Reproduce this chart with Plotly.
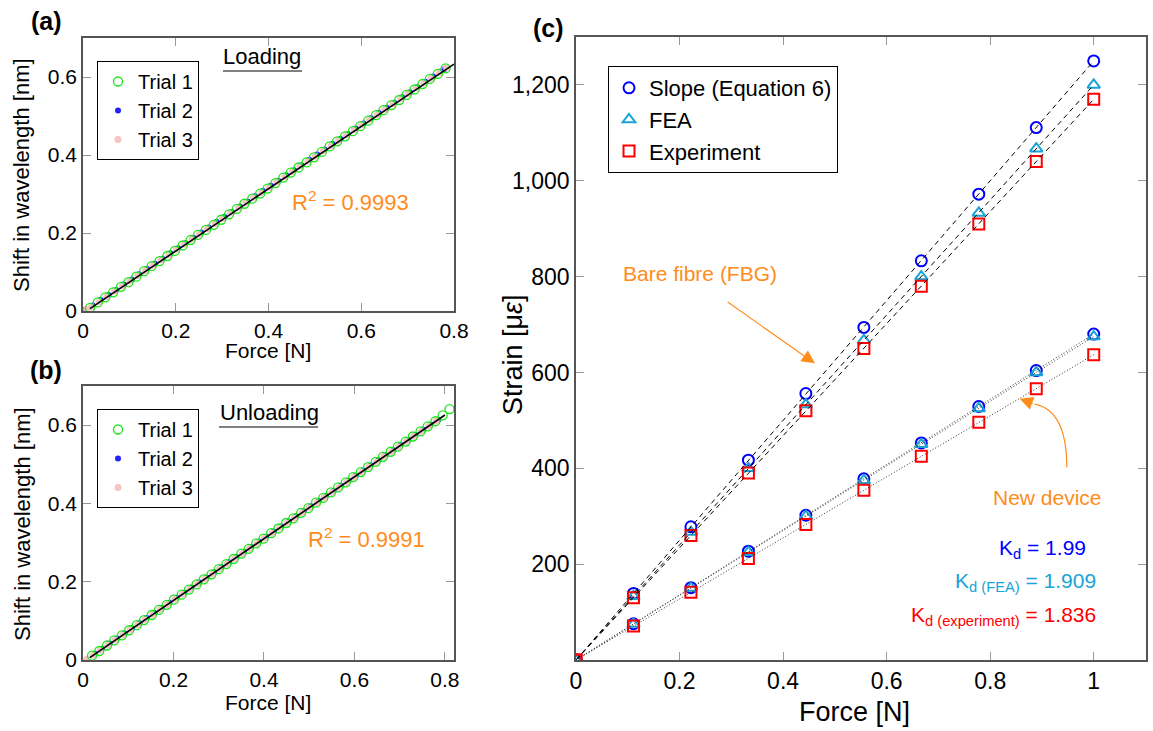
import plotly.graph_objects as go

# ---------------- Panel (a): Loading ----------------
a_t1_force = [0.015, 0.032, 0.048, 0.065, 0.082, 0.098, 0.115, 0.132, 0.148, 0.165, 0.182, 0.198,
              0.215, 0.232, 0.248, 0.265, 0.282, 0.298, 0.315, 0.332, 0.348, 0.365, 0.382, 0.398,
              0.415, 0.432, 0.448, 0.465, 0.482, 0.498, 0.515, 0.532, 0.548, 0.565, 0.582, 0.598,
              0.615, 0.632, 0.648, 0.665, 0.682, 0.698, 0.715, 0.732, 0.748, 0.765, 0.782]
a_t1_shift = [0.008, 0.022, 0.035, 0.048, 0.062, 0.074, 0.088, 0.102, 0.115, 0.128, 0.141, 0.154,
              0.168, 0.182, 0.195, 0.208, 0.221, 0.234, 0.248, 0.262, 0.275, 0.288, 0.301, 0.314,
              0.328, 0.342, 0.355, 0.368, 0.381, 0.394, 0.408, 0.422, 0.435, 0.448, 0.461, 0.474,
              0.488, 0.502, 0.515, 0.528, 0.541, 0.554, 0.568, 0.582, 0.595, 0.608, 0.622]
a_t2_force = [0.005, 0.021, 0.038, 0.055, 0.071, 0.088, 0.105, 0.121, 0.138, 0.155, 0.171, 0.188,
              0.205, 0.221, 0.238, 0.255, 0.271, 0.288, 0.305, 0.321, 0.338, 0.355, 0.371, 0.388,
              0.405, 0.421, 0.438, 0.455, 0.471, 0.488, 0.505, 0.521, 0.538, 0.555, 0.571, 0.588,
              0.605, 0.621, 0.638, 0.655, 0.671, 0.688, 0.705, 0.721, 0.738, 0.755, 0.771, 0.781]
a_t2_shift = [0.003, 0.014, 0.028, 0.041, 0.054, 0.068, 0.081, 0.094, 0.108, 0.121, 0.134, 0.148,
              0.161, 0.174, 0.188, 0.201, 0.214, 0.228, 0.241, 0.254, 0.268, 0.281, 0.294, 0.308,
              0.321, 0.334, 0.348, 0.361, 0.374, 0.388, 0.401, 0.414, 0.428, 0.441, 0.454, 0.468,
              0.481, 0.494, 0.508, 0.521, 0.534, 0.548, 0.561, 0.574, 0.588, 0.601, 0.614, 0.621]
a_t3_force = [0.008, 0.018, 0.035, 0.051, 0.068, 0.085, 0.101, 0.118, 0.135, 0.151, 0.168, 0.185,
              0.201, 0.218, 0.235, 0.251, 0.268, 0.285, 0.301, 0.318, 0.335, 0.351, 0.368, 0.385,
              0.401, 0.418, 0.435, 0.451, 0.468, 0.485, 0.501, 0.518, 0.535, 0.551, 0.568, 0.585,
              0.601, 0.618, 0.635, 0.651, 0.668, 0.685, 0.701, 0.718, 0.735, 0.751, 0.768, 0.784]
a_t3_shift = [0.004, 0.010, 0.024, 0.037, 0.051, 0.064, 0.077, 0.091, 0.104, 0.117, 0.131, 0.144,
              0.157, 0.171, 0.184, 0.197, 0.211, 0.224, 0.237, 0.251, 0.264, 0.277, 0.291, 0.304,
              0.317, 0.331, 0.344, 0.357, 0.371, 0.384, 0.397, 0.411, 0.424, 0.437, 0.451, 0.464,
              0.477, 0.491, 0.504, 0.517, 0.531, 0.544, 0.557, 0.571, 0.584, 0.597, 0.611, 0.624]
a_fit_force = [0.015, 0.80]
a_fit_shift = [0.006, 0.633]

# ---------------- Panel (b): Unloading ----------------
b_t1_force = [0.020, 0.036, 0.053, 0.069, 0.086, 0.102, 0.119, 0.135, 0.152, 0.168, 0.185, 0.201,
              0.218, 0.234, 0.251, 0.267, 0.284, 0.300, 0.317, 0.333, 0.350, 0.366, 0.383, 0.399,
              0.416, 0.432, 0.449, 0.465, 0.482, 0.498, 0.515, 0.531, 0.548, 0.564, 0.581, 0.597,
              0.614, 0.630, 0.647, 0.663, 0.680, 0.696, 0.713, 0.729, 0.746, 0.762, 0.779, 0.795, 0.810]
b_t1_shift = [0.011, 0.023, 0.037, 0.050, 0.063, 0.076, 0.089, 0.102, 0.115, 0.128, 0.141, 0.154,
              0.167, 0.180, 0.193, 0.206, 0.219, 0.232, 0.245, 0.258, 0.272, 0.284, 0.298, 0.310,
              0.324, 0.336, 0.350, 0.362, 0.376, 0.388, 0.402, 0.414, 0.428, 0.441, 0.454, 0.467,
              0.480, 0.493, 0.506, 0.519, 0.532, 0.545, 0.558, 0.571, 0.584, 0.597, 0.610, 0.625, 0.641]
b_t2_force = [0.008, 0.026, 0.042, 0.059, 0.075, 0.092, 0.108, 0.125, 0.141, 0.158, 0.174, 0.191,
              0.207, 0.224, 0.240, 0.257, 0.273, 0.290, 0.306, 0.323, 0.339, 0.356, 0.372, 0.389,
              0.405, 0.422, 0.438, 0.455, 0.471, 0.488, 0.504, 0.521, 0.537, 0.554, 0.570, 0.587,
              0.603, 0.620, 0.636, 0.653, 0.669, 0.686, 0.702, 0.719, 0.735, 0.752, 0.768, 0.785]
b_t2_shift = [0.001, 0.016, 0.029, 0.042, 0.055, 0.068, 0.081, 0.094, 0.107, 0.120, 0.133, 0.146,
              0.159, 0.172, 0.185, 0.198, 0.211, 0.224, 0.237, 0.250, 0.263, 0.276, 0.289, 0.302,
              0.315, 0.328, 0.341, 0.354, 0.367, 0.380, 0.393, 0.406, 0.419, 0.432, 0.445, 0.458,
              0.471, 0.484, 0.497, 0.510, 0.523, 0.536, 0.549, 0.562, 0.575, 0.588, 0.601, 0.614]
b_t3_force = [0.008, 0.022, 0.038, 0.055, 0.071, 0.088, 0.104, 0.121, 0.137, 0.154, 0.170, 0.187,
              0.203, 0.220, 0.236, 0.253, 0.269, 0.286, 0.302, 0.319, 0.335, 0.352, 0.368, 0.385,
              0.401, 0.418, 0.434, 0.451, 0.467, 0.484, 0.500, 0.517, 0.533, 0.550, 0.566, 0.583,
              0.599, 0.616, 0.632, 0.649, 0.665, 0.682, 0.698, 0.715, 0.731, 0.748, 0.764, 0.781]
b_t3_shift = [0.001, 0.012, 0.025, 0.038, 0.051, 0.064, 0.077, 0.090, 0.103, 0.116, 0.129, 0.142,
              0.155, 0.168, 0.181, 0.194, 0.207, 0.220, 0.233, 0.246, 0.259, 0.272, 0.285, 0.298,
              0.311, 0.324, 0.337, 0.350, 0.363, 0.376, 0.389, 0.402, 0.415, 0.428, 0.441, 0.454,
              0.467, 0.480, 0.493, 0.506, 0.519, 0.532, 0.545, 0.558, 0.571, 0.584, 0.597, 0.611]
b_fit_force = [0.015, 0.80]
b_fit_shift = [0.006, 0.626]

# ---------------- Panel (c): Strain ----------------
c_force = [0, 0.111, 0.222, 0.333, 0.444, 0.556, 0.667, 0.778, 0.889, 1.0]
bare_slope = [0, 139, 278, 417, 556, 694, 833, 972, 1111, 1250]
bare_fea = [0, 133, 267, 400, 533, 667, 800, 933, 1067, 1200]
bare_exp = [0, 130, 260, 390, 520, 650, 780, 910, 1040, 1170]
new_slope = [0, 75.6, 151, 227, 302, 378, 453, 529, 604, 680]
new_fea = [0, 75, 150, 225, 300, 375, 450, 525, 600, 675]
new_exp = [0, 70.8, 141.6, 212, 283, 354, 425, 496, 566, 637]

c_xticks = [0, 0.2, 0.4, 0.6, 0.8, 1]
c_xticktext = ["0", "0.2", "0.4", "0.6", "0.8", "1"]
c_yticks = [200, 400, 600, 800, 1000, 1200]
c_yticktext = ["200", "400", "600", "800", "1,000", "1,200"]
ab_yticks = [0, 0.2, 0.4, 0.6]
ab_yticktext = ["0", "0.2", "0.4", "0.6"]
ab_xticks = [0, 0.2, 0.4, 0.6, 0.8]
ab_xticktext = ["0", "0.2", "0.4", "0.6", "0.8"]

W, H = 1153, 731
FONT = "Liberation Sans, Arial, sans-serif"
GREEN = "#1ee61e"
BLUE2 = "#2222ff"
PINK = "#f5c4c4"
ORANGE = "#ff8c1a"
CBLUE = "#0000ff"
CYAN = "#1aa3d6"
RED = "#ff0000"


def px(x):
    return x / W


def py(y):
    return 1 - y / H


fig = go.Figure()

# panel (a)
fig.add_trace(go.Scatter(x=a_t2_force, y=a_t2_shift, mode="markers", name="Trial 2",
                         marker=dict(color=BLUE2, size=6), xaxis="x", yaxis="y",
                         legend="legend", legendrank=2))
fig.add_trace(go.Scatter(x=a_t3_force, y=a_t3_shift, mode="markers", name="Trial 3",
                         marker=dict(color=PINK, size=7), xaxis="x", yaxis="y",
                         legend="legend", legendrank=3))
fig.add_trace(go.Scatter(x=a_t1_force, y=a_t1_shift, mode="markers", name="Trial 1",
                         marker=dict(symbol="circle-open", color=GREEN, size=9, line=dict(width=1.3)),
                         xaxis="x", yaxis="y", legend="legend", legendrank=1))
fig.add_trace(go.Scatter(x=a_fit_force, y=a_fit_shift, mode="lines", showlegend=False,
                         line=dict(color="black", width=1.6), xaxis="x", yaxis="y"))

# panel (b)
fig.add_trace(go.Scatter(x=b_t2_force, y=b_t2_shift, mode="markers", name="Trial 2",
                         marker=dict(color=BLUE2, size=6), xaxis="x2", yaxis="y2",
                         legend="legend2", legendrank=2))
fig.add_trace(go.Scatter(x=b_t3_force, y=b_t3_shift, mode="markers", name="Trial 3",
                         marker=dict(color=PINK, size=7), xaxis="x2", yaxis="y2",
                         legend="legend2", legendrank=3))
fig.add_trace(go.Scatter(x=b_t1_force, y=b_t1_shift, mode="markers", name="Trial 1",
                         marker=dict(symbol="circle-open", color=GREEN, size=9, line=dict(width=1.3)),
                         xaxis="x2", yaxis="y2", legend="legend2", legendrank=1))
fig.add_trace(go.Scatter(x=b_fit_force, y=b_fit_shift, mode="lines", showlegend=False,
                         line=dict(color="black", width=1.6), xaxis="x2", yaxis="y2"))

# panel (c) markers
series = [
    (bare_slope, new_slope, "Slope (Equation 6)", "circle-open", CBLUE, 11),
    (bare_fea, new_fea, "FEA", "triangle-up-open", CYAN, 11),
    (bare_exp, new_exp, "Experiment", "square-open", RED, 11),
]
for i, (bare, new, name, sym, col, sz) in enumerate(series):
    fig.add_trace(go.Scatter(x=c_force, y=bare, mode="markers", name=name,
                             marker=dict(symbol=sym, color=col, size=sz, line=dict(width=2)),
                             xaxis="x3", yaxis="y3", legend="legend3", legendrank=i + 1))
    fig.add_trace(go.Scatter(x=c_force, y=new, mode="markers", showlegend=False,
                             marker=dict(symbol=sym, color=col, size=sz, line=dict(width=2)),
                             xaxis="x3", yaxis="y3"))
for bare, new, *_ in series:
    fig.add_trace(go.Scatter(x=c_force, y=bare, mode="lines", showlegend=False,
                             line=dict(color="black", width=1, dash="5px,4px"),
                             xaxis="x3", yaxis="y3"))
    fig.add_trace(go.Scatter(x=c_force, y=new, mode="lines", showlegend=False,
                             line=dict(color="#333333", width=1, dash="1px,2px"),
                             xaxis="x3", yaxis="y3"))

axis_common = dict(showgrid=False, zeroline=False, showline=True, linecolor="#555555",
                   linewidth=1.5, mirror="ticks", ticks="inside", ticklen=8, tickcolor="#999999",
                   tickwidth=1.2, automargin=False)

fig.update_layout(
    template="none",
    width=W, height=H, margin=dict(l=0, r=0, t=0, b=0, pad=0), autosize=False,
    paper_bgcolor="white", plot_bgcolor="white",
    font=dict(family=FONT, color="black"),
    xaxis=dict(domain=[px(83), px(454)], range=[0, 0.8], anchor="y", tickvals=ab_xticks,
               ticktext=ab_xticktext, tickfont=dict(size=21), **axis_common),
    yaxis=dict(domain=[py(311), py(38)], range=[0, 0.7], anchor="x", tickvals=ab_yticks,
               ticktext=ab_yticktext, tickfont=dict(size=21), **axis_common),
    xaxis2=dict(domain=[px(83), px(454)], range=[0, 0.82], anchor="y2", tickvals=ab_xticks,
                ticktext=ab_xticktext, tickfont=dict(size=21), **axis_common),
    yaxis2=dict(domain=[py(660), py(386)], range=[0, 0.7], anchor="x2", tickvals=ab_yticks,
                ticktext=ab_yticktext, tickfont=dict(size=21), **axis_common),
    xaxis3=dict(domain=[px(576), px(1145.5)], range=[0, 1.1], anchor="y3", tickvals=c_xticks,
                ticktext=c_xticktext, tickfont=dict(size=23), **axis_common),
    yaxis3=dict(domain=[py(660), py(37)], range=[0, 1300], anchor="x3", tickvals=c_yticks,
                ticktext=c_yticktext, tickfont=dict(size=23), **axis_common),
    legend=dict(x=px(97), y=py(61), xanchor="left", yanchor="top", bgcolor="white",
                bordercolor="black", borderwidth=1, font=dict(size=20), itemwidth=30,
                traceorder="normal"),
    legend2=dict(x=px(97), y=py(409), xanchor="left", yanchor="top", bgcolor="white",
                 bordercolor="black", borderwidth=1, font=dict(size=20), itemwidth=30,
                 traceorder="normal"),
    legend3=dict(x=px(608), y=py(66), xanchor="left", yanchor="top", bgcolor="white",
                 bordercolor="black", borderwidth=1, font=dict(size=22), itemwidth=30,
                 traceorder="normal"),
    showlegend=True,
)

ann = []


def text(x, y, t, size, color="black", angle=0, xanchor="center", bold=False):
    ann.append(dict(x=px(x), y=py(y), xref="paper", yref="paper", text=("<b>%s</b>" % t) if bold else t,
                    showarrow=False, font=dict(size=size, color=color, family=FONT),
                    textangle=angle, xanchor=xanchor, yanchor="middle"))


text(46, 21, "(a)", 25, bold=True)
text(46, 370, "(b)", 25, bold=True)
text(548, 28, "(c)", 25, bold=True)
text(268, 350, "Force [N]", 21)
text(268, 702, "Force [N]", 21)
text(22, 175, "Shift in wavelength [nm]", 22, angle=-90)
text(22, 524, "Shift in wavelength [nm]", 22, angle=-90)
text(854, 712, "Force [N]", 27)
text(513, 355, "Strain [μ<i>ε</i>]", 27, angle=-90)
text(262, 56, "Loading", 22)
text(269, 412, "Unloading", 22)
text(351, 201, "R<sup>2</sup> = 0.9993", 22, color=ORANGE)
text(366, 538, "R<sup>2</sup> = 0.9991", 22, color=ORANGE)
text(700, 273, "Bare fibre (FBG)", 21, color=ORANGE)
text(1047, 497, "New device", 21, color=ORANGE)
text(1088, 549, "K<sub>d</sub> = 1.99", 21, color=CBLUE, xanchor="right")
text(1098, 582, "K<sub>d (FEA)</sub> = 1.909", 21, color=CYAN, xanchor="right")
text(1098, 616, "K<sub>d (experiment)</sub> = 1.836", 21, color=RED, xanchor="right")

# arrows (panel c, data coordinates)
ann.append(dict(x=0.4615, y=619, ax=0.290, ay=749, xref="x3", yref="y3", axref="x3", ayref="y3",
                text="", showarrow=True, arrowhead=2, arrowsize=2.2, arrowwidth=1.2,
                arrowcolor=ORANGE, standoff=0))
ann.append(dict(x=0.857, y=545, ax=0.885, ay=534, xref="x3", yref="y3", axref="x3", ayref="y3",
                text="", showarrow=True, arrowhead=2, arrowsize=2.2, arrowwidth=1.2,
                arrowcolor=ORANGE, standoff=0))
fig.update_layout(annotations=ann)

shapes = [
    dict(type="line", xref="paper", yref="paper", x0=px(223), x1=px(302), y0=py(71), y1=py(71),
         line=dict(color="black", width=1.2)),
    dict(type="line", xref="paper", yref="paper", x0=px(219), x1=px(318), y0=py(427), y1=py(427),
         line=dict(color="black", width=1.2)),
    dict(type="path", xref="x3", yref="y3", path="M 0.948,402 Q 0.948,521 0.886,534",
         line=dict(color=ORANGE, width=1.2)),
]
fig.update_layout(shapes=shapes)

fig.write_html("out.html")
